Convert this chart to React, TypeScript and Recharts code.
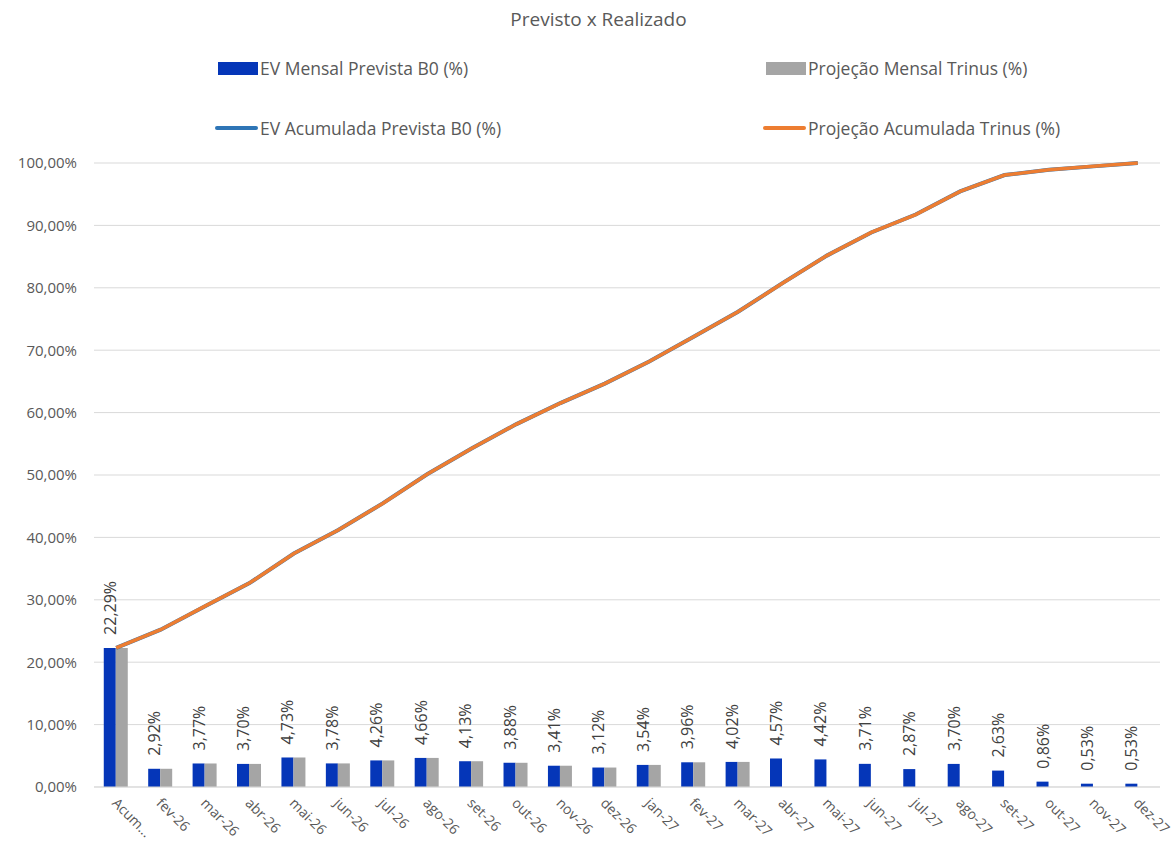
import { ComposedChart, Bar, Line, XAxis, YAxis, CartesianGrid, Legend, LabelList } from "recharts";

const months = [
  "Acum...", "fev-26", "mar-26", "abr-26", "mai-26", "jun-26", "jul-26", "ago-26",
  "set-26", "out-26", "nov-26", "dez-26", "jan-27", "fev-27", "mar-27", "abr-27",
  "mai-27", "jun-27", "jul-27", "ago-27", "set-27", "out-27", "nov-27", "dez-27",
];

const evMensal = [
  22.29, 2.92, 3.77, 3.7, 4.73, 3.78, 4.26, 4.66, 4.13, 3.88, 3.41, 3.12,
  3.54, 3.96, 4.02, 4.57, 4.42, 3.71, 2.87, 3.7, 2.63, 0.86, 0.53, 0.53,
];

const projMensal = [
  22.29, 2.92, 3.77, 3.7, 4.73, 3.78, 4.26, 4.66, 4.13, 3.88, 3.41, 3.12,
  3.54, 3.96, 4.02, null, null, null, null, null, null, null, null, null,
];

const evAcum = [
  22.29, 25.21, 28.98, 32.68, 37.41, 41.19, 45.45, 50.11, 54.24, 58.12, 61.53, 64.65,
  68.19, 72.15, 76.17, 80.74, 85.16, 88.87, 91.74, 95.44, 98.07, 98.93, 99.46, 100.0,
];

const projAcum = [
  22.29, 25.21, 28.98, 32.68, 37.41, 41.19, 45.45, 50.11, 54.24, 58.12, 61.53, 64.65,
  68.19, 72.15, 76.17, 80.74, 85.16, 88.87, 91.74, 95.44, 98.07, 98.93, 99.46, 100.0,
];

const yTicks = [0, 10, 20, 30, 40, 50, 60, 70, 80, 90, 100];

const data = months.map((m, i) => ({
  month: m,
  evMensal: evMensal[i],
  projMensal: projMensal[i],
  evAcum: evAcum[i],
  projAcum: projAcum[i],
}));

const FONT = "'Open Sans', 'Noto Sans', sans-serif";
const BLUE = "#0536B8";
const GRAY = "#A5A5A5";
const LINE_BLUE = "#2E75B6";
const ORANGE = "#ED7D31";

const pct = (v: number) => `${v.toFixed(2).replace(".", ",")}%`;

function XTick({ x, y, payload }: any) {
  const tx = x - 5;
  const ty = y + 9;
  return (
    <text
      x={tx}
      y={ty}
      transform={`rotate(45, ${tx}, ${ty})`}
      textAnchor="start"
      fontSize={14}
      fill="#595959"
      fontFamily={FONT}
    >
      {payload.value}
    </text>
  );
}

function BarLabel({ x, y, width, value }: any) {
  if (value == null) return null;
  const cx = x + width / 2;
  const ty = y - 13;
  return (
    <text
      x={cx}
      y={ty}
      transform={`rotate(-90, ${cx}, ${ty})`}
      textAnchor="start"
      dominantBaseline="central"
      fontSize={16}
      fill="#404040"
      fontFamily={FONT}
    >
      {pct(value)}
    </text>
  );
}

const legendItems = [
  { name: "EV Mensal Prevista B0 (%)", color: BLUE, kind: "rect", left: 218, top: 68 },
  { name: "Projeção Mensal Trinus (%)", color: GRAY, kind: "rect", left: 766, top: 68 },
  { name: "EV Acumulada Prevista B0 (%)", color: LINE_BLUE, kind: "line", left: 215, top: 128 },
  { name: "Projeção Acumulada Trinus (%)", color: ORANGE, kind: "line", left: 763, top: 128 },
];

function LegendContent() {
  return (
    <div style={{ position: "relative", width: 1173, height: 150, fontFamily: FONT }}>
      {legendItems.map((it) => (
        <div
          key={it.name}
          style={{
            position: "absolute",
            left: it.left,
            top: it.top - 12,
            height: 24,
            display: "flex",
            alignItems: "center",
            fontSize: 17.5,
            color: "#595959",
            whiteSpace: "nowrap",
          }}
        >
          {it.kind === "rect" ? (
            <span style={{ display: "inline-block", width: 40, height: 13, background: it.color, marginRight: 2 }} />
          ) : (
            <span style={{ display: "inline-block", width: 43, height: 4, borderRadius: 2, background: it.color, marginRight: 2 }} />
          )}
          {it.name}
        </div>
      ))}
    </div>
  );
}

export default function App() {
  return (
    <div style={{ position: "absolute", left: 0, top: 0, width: 1173, height: 841, background: "#fff" }}>
      <div
        style={{
          position: "absolute",
          top: 6,
          left: 24,
          width: 1149,
          textAlign: "center",
          fontFamily: FONT,
          fontSize: 19,
          color: "#595959",
        }}
      >
        Previsto x Realizado
      </div>
      <ComposedChart
        width={1173}
        height={841}
        data={data}
        margin={{ top: 163, right: 13, left: 0, bottom: 0 }}
        barCategoryGap="22%"
        barGap={0}
      >
        <CartesianGrid vertical={false} stroke="#D9D9D9" strokeWidth={1} />
        <XAxis
          dataKey="month"
          height={54}
          interval={0}
          tickLine={false}
          axisLine={{ stroke: "#D9D9D9" }}
          tick={<XTick />}
        />
        <YAxis
          width={94}
          domain={[0, 100]}
          ticks={yTicks}
          tickFormatter={pct}
          axisLine={false}
          tickLine={false}
          tickSize={0}
          tickMargin={17}
          tick={{ fontSize: 15, fill: "#595959", fontFamily: FONT }}
        />
        <Legend
          layout="horizontal"
          verticalAlign="middle"
          align="center"
          content={<LegendContent />}
          wrapperStyle={{ top: 0, left: 0, width: 1173, height: 150 }}
        />
        <Bar dataKey="evMensal" name="EV Mensal Prevista B0 (%)" fill={BLUE} isAnimationActive={false}>
          <LabelList dataKey="evMensal" content={<BarLabel />} />
        </Bar>
        <Bar dataKey="projMensal" name="Projeção Mensal Trinus (%)" fill={GRAY} isAnimationActive={false} />
        <Line
          dataKey="evAcum"
          name="EV Acumulada Prevista B0 (%)"
          type="linear"
          stroke={LINE_BLUE}
          strokeWidth={4}
          dot={false}
          isAnimationActive={false}
        />
        <Line
          dataKey="projAcum"
          name="Projeção Acumulada Trinus (%)"
          type="linear"
          stroke={ORANGE}
          strokeWidth={3.5}
          dot={false}
          isAnimationActive={false}
        />
      </ComposedChart>
    </div>
  );
}
